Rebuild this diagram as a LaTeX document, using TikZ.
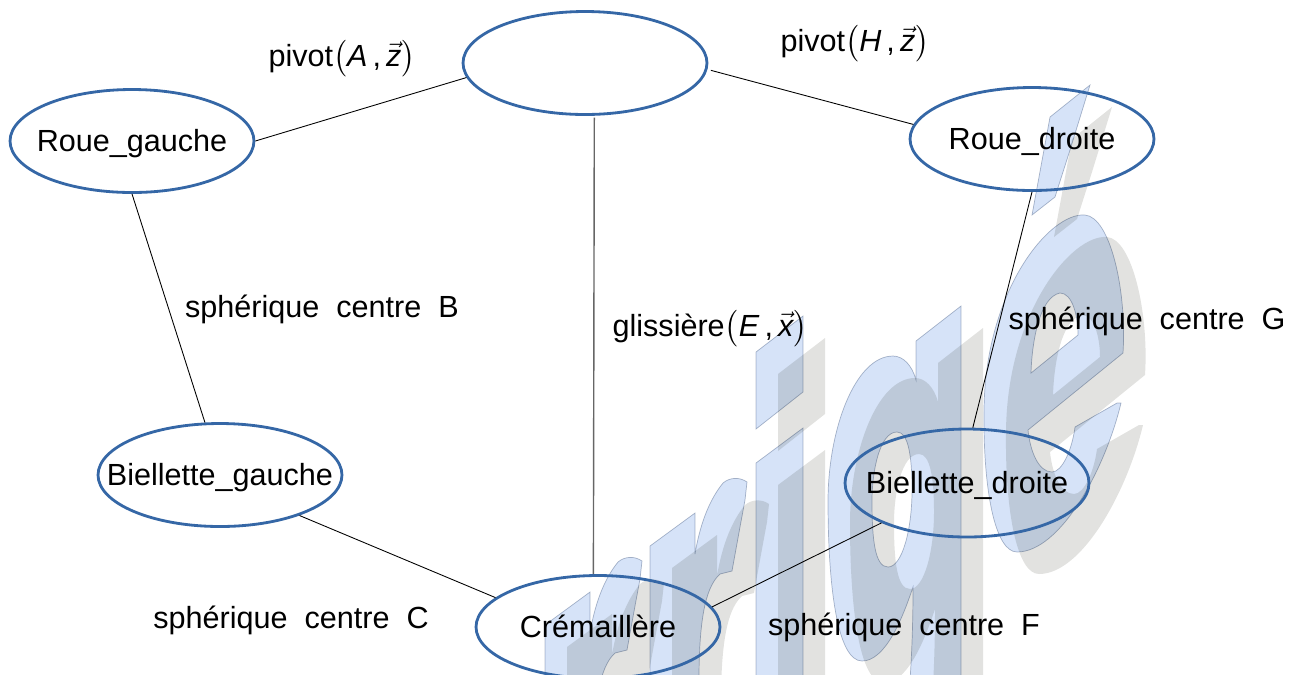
\documentclass[tikz,border=0pt]{standalone}
\usepackage{amsmath, amsfonts, amssymb}
\usepackage{xcolor}
\usepackage{fontspec}
\setmainfont{Liberation Sans}
\usepackage{tikz}

\definecolor{ellipseblue}{HTML}{3567A6}
\definecolor{wmgrey}{HTML}{E2E2E0}
\definecolor{wmblue}{HTML}{D6E3F8}
\definecolor{wmedge}{HTML}{B3BCCB}

\usetikzlibrary{shapes.geometric}
\tikzset{
  piece/.style={draw=ellipseblue, line width=1.6pt, ellipse, minimum width=4.88cm, minimum height=2.06cm, inner sep=-1cm, text height=12.5pt, text depth=0pt, font=\fontsize{17.4}{20}\selectfont},
  liaison/.style={black, line width=0.5pt},
  lbl/.style={inner sep=0pt, font=\fontsize{17.4}{20}\selectfont},
  wmshadow/.style={fill=wmgrey, even odd rule},
  wmletter/.style={fill=wmblue, draw=wmedge, line width=0.4pt, even odd rule, blend mode=multiply}
}

\newcommand{\rletter}{
  (650,546) -- (695,513) -- (695,554)
  .. controls (698,536) and (705,505) .. (723,483)
  .. controls (730,477) and (740,477) .. (747,482)
  -- (745,500) -- (740,527) -- (732,571) -- (720,574)
  .. controls (708,585) and (699,610) .. (699,680)
  -- (650,680) -- cycle
}
\newcommand{\wordshape}{
  % i
  (756,352) -- (803,316) -- (803,392) -- (756,429) -- cycle
  (756,463) -- (803,428) -- (803,680) -- (756,680) -- cycle
  % g
  (916,341) -- (961,306) -- (961,680) -- (910,680)
  .. controls (912,650) and (913,620) .. (913,587)
  .. controls (902,620) and (885,661) .. (862,661)
  .. controls (838,661) and (828,590) .. (828,501)
  .. controls (828,430) and (855,356) .. (893,356)
  .. controls (903,356) and (912,365) .. (916,380) -- cycle
  (897,432) .. controls (880,432) and (872,470) .. (872,501)
  .. controls (872,540) and (875,567) .. (888,567)
  .. controls (902,567) and (912,530) .. (912,490)
  .. controls (912,455) and (908,432) .. (897,432) -- cycle
  % e
  (1090,85) -- (1050,117) -- (1032,215) -- (1055,197) -- (1070,150) -- cycle
  (1085,215) .. controls (1050,212) and (985,290) .. (984,410)
  .. controls (983,490) and (995,552) .. (1017,552)
  .. controls (1060,552) and (1105,470) .. (1121,403)
  -- (1117,403) -- (1075,427)
  .. controls (1072,450) and (1062,472) .. (1052,472)
  .. controls (1038,472) and (1030,450) .. (1028,430)
  -- (1123,353)
  .. controls (1127,290) and (1110,217) .. (1085,215) -- cycle
  (1060,293) .. controls (1040,297) and (1032,340) .. (1031,373)
  -- (1078,335) .. controls (1078,315) and (1072,293) .. (1060,293) -- cycle
}
\newcommand{\liaisonaxe}[3]{#1$\bigl($\textit{#2}\,,\,$\vec{\textit{#3}}\bigr)$}

\begin{document}
\begin{tikzpicture}[x=0.02cm,y=-0.02cm]
\useasboundingbox (0,0) rectangle (1297,674);

% filigrane
\fill[wmshadow, shift={(22,22)}] \wordshape;
\fill[wmshadow, shift={(22,22)}] \rletter;
\fill[wmshadow, shift={(-83,101)}] \rletter;
\path[wmletter] \wordshape;
\path[wmletter] \rletter;
\path[wmletter, shift={(-105,79)}] \rletter;

% classes
\node[piece] (bati) at (585,63) {};
\node[piece] (rouegauche) at (132,141) {Roue\_gauche};
\node[piece] (rouedroite) at (1032,139) {Roue\_droite};
\node[piece] (biellettegauche) at (220,475) {Biellette\_gauche};
\node[piece, minimum height=2.16cm] (biellettedroite) at (967,483) {Biellette\_droite};
\node[piece] (cremaillere) at (598,627) {Crémaillère};

% liaisons
\draw[liaison] (rouegauche.0) -- (bati.187);
\draw[liaison, shorten <=2pt] (bati.-3) -- (rouedroite.173);
\draw[liaison] (rouegauche.-90) -- (biellettegauche.106);
\draw[liaison] (rouedroite.-90) -- (biellettedroite.84);
\draw[liaison] (biellettegauche.-27) -- (cremaillere.164);
\draw[liaison] (biellettedroite.205) -- (cremaillere.10);
\draw[black!60, line width=0.8pt, shorten <=1pt] (bati.-80) -- (cremaillere.95);

% textes
\node[lbl] (pivotA) at (342,59) {\liaisonaxe{pivot}{A}{z}};
\node[lbl] (pivotH) at (855,44) {\liaisonaxe{pivot}{H}{z}};
\node[lbl] (spherB) at (322,309) {sphérique\ \ centre\ \ B};
\node[lbl] (spherG) at (1147,321) {sphérique\ \ centre\ \ G};
\node[lbl] (glissE) at (710,329) {\liaisonaxe{glissière}{E}{x}};
\node[lbl] (spherC) at (291,620) {sphérique\ \ centre\ \ C};
\node[lbl] (spherF) at (904,627) {sphérique\ \ centre\ \ F};
\end{tikzpicture}
\end{document}
